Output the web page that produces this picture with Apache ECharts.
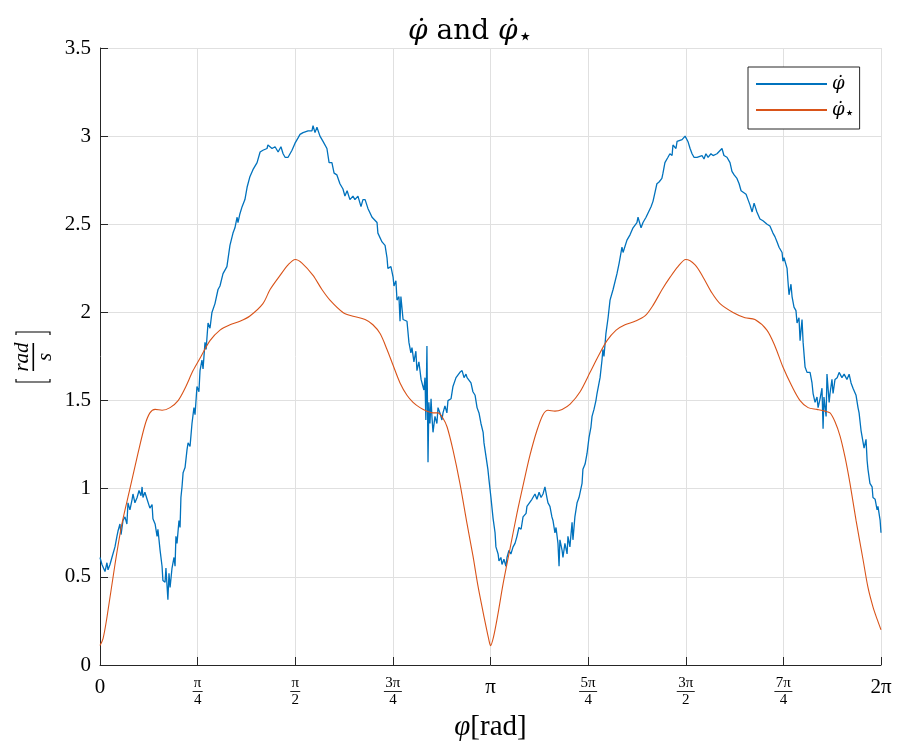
<!DOCTYPE html>
<html>
<head>
<meta charset="utf-8">
<script src="https://cdn.jsdelivr.net/npm/echarts/dist/echarts.min.js"></script>
<style>
  html, body { margin: 0; padding: 0; background: #ffffff; }
  #chart { width: 898px; height: 749px; }
</style>
</head>
<body>
<div id="chart"></div>
<script>
// Angle phi in degrees (0 .. 360 = 0 .. 2π), rates in rad/s.

// measured rate  φ̇
const phiBlue = [
  0, 0.9, 2.3, 3.2, 3.7, 4.6, 5.5, 6.9, 7.8, 8.3, 9.2, 9.7, 10.6, 11.5, 12.4, 12.9, 13.8, 14.8, 15.2, 16.1,
  17.1, 18.0, 18.9, 19.4, 19.8, 20.7, 21.7, 23.0, 24.0, 24.4, 25.4, 26.3, 26.7, 27.7, 28.6, 29.0, 30.0, 30.4, 30.9, 31.3,
  31.8, 32.3, 33.2, 34.1, 34.6, 35.0, 35.5, 36.4, 36.9, 37.3, 37.8, 38.3, 39.2, 40.1, 40.6, 41.5, 42.4, 43.3, 43.8, 44.7,
  45.6, 46.1, 47.0, 47.5, 48.4, 48.9, 49.8, 50.7, 51.6, 53.0, 54.4, 55.3, 56.7, 57.6, 58.5, 59.9, 61.3, 62.2, 63.2, 63.6,
  64.5, 65.5, 66.8, 67.8, 69.1, 70.5, 72.4, 73.8, 75.1, 77.0, 77.4, 79.3, 80.7, 82.1, 83.4, 84.4, 85.3, 86.7, 88.5, 89.9,
  91.3, 92.2, 93.6, 95.9, 97.7, 98.2, 99.1, 100.0, 101.4, 102.8, 104.6, 105.6, 106.9, 107.9, 109.2, 110.6, 112.0, 112.9, 113.9, 115.2,
  116.6, 117.5, 118.9, 120.3, 121.2, 122.2, 123.1, 123.5, 125.4, 125.8, 127.7, 128.1, 130.0, 131.4, 132.3, 132.7, 134.1, 135.1, 135.5, 136.4,
  136.9, 137.8, 138.3, 138.7, 139.7, 140.6, 141.5, 142.4, 143.3, 143.8, 144.7, 145.6, 146.1, 147.0, 148.0, 148.9, 149.3, 149.8, 150.2, 150.7,
  151.2, 151.6, 152.1, 152.6, 153.0, 153.5, 154.4, 155.3, 155.8, 156.7, 157.6, 158.1, 159.0, 159.9, 160.4, 161.8, 162.7, 163.2, 164.1, 165.0,
  165.9, 166.9, 167.8, 168.7, 169.2, 170.1, 171.0, 171.9, 172.9, 173.8, 174.7, 175.6, 176.6, 177.0, 177.9, 178.8, 179.3, 180.2, 181.2, 182.1,
  182.5, 183.5, 183.9, 184.8, 185.3, 186.2, 187.1, 187.6, 188.5, 189.4, 190.4, 191.3, 192.2, 193.1, 194.1, 195.0, 196.4, 196.8, 197.7, 199.1,
  199.6, 200.5, 201.4, 202.4, 203.3, 204.2, 205.1, 206.0, 206.5, 207.4, 208.3, 208.8, 209.7, 210.2, 211.1, 211.6, 212.0, 213.0, 213.4, 214.3,
  215.3, 215.7, 216.6, 217.6, 218.0, 218.9, 219.9, 220.8, 222.2, 222.6, 223.6, 224.5, 225.4, 226.3, 226.8, 227.7, 228.6, 229.1, 230.5, 231.4,
  231.8, 232.3, 233.2, 234.2, 235.1, 236.5, 238.3, 239.3, 239.7, 240.6, 241.1, 242.0, 242.9, 244.3, 245.7, 246.6, 247.5, 248.0, 249.4, 250.3,
  251.7, 252.6, 254.0, 254.9, 255.8, 256.7, 257.7, 259.0, 259.5, 260.4, 261.8, 262.7, 263.7, 264.1, 265.5, 266.0, 266.9, 268.3, 269.7, 271.0,
  272.0, 272.9, 273.8, 275.2, 276.1, 277.5, 278.4, 279.3, 280.3, 281.6, 282.6, 284.4, 285.3, 286.7, 287.6, 289.0, 290.4, 291.3, 292.3, 293.6,
  294.6, 295.5, 296.4, 297.8, 298.7, 299.6, 300.6, 301.5, 302.8, 304.2, 305.6, 307.5, 308.8, 310.2, 311.1, 312.1, 313.0, 314.4, 314.8, 315.3,
  316.7, 317.1, 317.6, 318.5, 319.0, 319.9, 320.8, 321.3, 322.2, 322.7, 323.6, 324.1, 325.0, 325.9, 326.4, 327.3, 328.2, 328.7, 329.6, 330.5,
  331.0, 331.9, 332.8, 333.3, 333.7, 334.7, 335.1, 336.1, 336.5, 337.4, 337.9, 338.8, 339.8, 340.7, 342.0, 343.0, 344.3, 345.3, 346.2, 347.1,
  348.5, 349.4, 349.9, 350.8, 351.7, 352.2, 353.1, 353.6, 354.0, 354.9, 355.9, 356.3, 357.3, 358.2, 358.6, 359.6, 360
];
const rateBlue = [
  0.61, 0.57, 0.53, 0.58, 0.54, 0.57, 0.61, 0.67, 0.73, 0.76, 0.80, 0.74, 0.82, 0.84, 0.80, 0.92, 0.88, 0.94, 0.97, 0.92,
  0.95, 0.99, 0.96, 1.01, 0.95, 0.98, 0.94, 0.89, 0.91, 0.83, 0.80, 0.73, 0.77, 0.65, 0.56, 0.48, 0.47, 0.55, 0.45, 0.37,
  0.52, 0.44, 0.55, 0.61, 0.56, 0.73, 0.69, 0.82, 0.78, 0.95, 1.01, 1.09, 1.12, 1.22, 1.26, 1.24, 1.37, 1.46, 1.42, 1.58,
  1.55, 1.67, 1.73, 1.68, 1.83, 1.79, 1.94, 1.91, 2.00, 2.05, 2.13, 2.15, 2.22, 2.21, 2.26, 2.38, 2.45, 2.48, 2.54, 2.51,
  2.56, 2.60, 2.64, 2.71, 2.77, 2.81, 2.85, 2.91, 2.92, 2.93, 2.95, 2.93, 2.94, 2.91, 2.94, 2.90, 2.88, 2.88, 2.92, 2.96,
  2.99, 3.01, 3.02, 3.03, 3.03, 3.06, 3.02, 3.05, 3.00, 2.97, 2.93, 2.85, 2.85, 2.79, 2.78, 2.73, 2.70, 2.66, 2.69, 2.64,
  2.66, 2.64, 2.66, 2.60, 2.64, 2.64, 2.64, 2.59, 2.54, 2.55, 2.51, 2.45, 2.40, 2.38, 2.31, 2.25, 2.26, 2.20, 2.15, 2.18,
  2.07, 2.09, 1.95, 2.09, 1.96, 1.95, 1.95, 1.83, 1.77, 1.80, 1.72, 1.78, 1.67, 1.72, 1.62, 1.62, 1.56, 1.63, 1.39, 1.81,
  1.15, 1.49, 1.37, 1.51, 1.41, 1.32, 1.41, 1.37, 1.46, 1.43, 1.39, 1.43, 1.47, 1.43, 1.50, 1.51, 1.58, 1.57, 1.63, 1.62,
  1.66, 1.67, 1.63, 1.65, 1.63, 1.63, 1.60, 1.55, 1.53, 1.46, 1.43, 1.37, 1.32, 1.26, 1.26, 1.11, 1.05, 0.95, 0.83, 0.75,
  0.67, 0.63, 0.59, 0.61, 0.57, 0.60, 0.56, 0.61, 0.65, 0.63, 0.67, 0.69, 0.73, 0.78, 0.77, 0.84, 0.86, 0.90, 0.90, 0.94,
  0.95, 0.97, 0.94, 0.98, 0.95, 0.97, 1.01, 0.95, 0.92, 0.90, 0.84, 0.82, 0.75, 0.78, 0.69, 0.56, 0.71, 0.65, 0.61, 0.69,
  0.63, 0.73, 0.67, 0.81, 0.71, 0.84, 0.92, 0.95, 1.03, 1.11, 1.14, 1.20, 1.29, 1.35, 1.41, 1.45, 1.50, 1.54, 1.63, 1.73,
  1.79, 1.75, 1.88, 1.97, 2.07, 2.13, 2.22, 2.28, 2.28, 2.37, 2.34, 2.34, 2.41, 2.44, 2.48, 2.47, 2.51, 2.54, 2.48, 2.51,
  2.54, 2.54, 2.60, 2.63, 2.68, 2.73, 2.74, 2.76, 2.79, 2.85, 2.88, 2.90, 2.89, 2.95, 2.93, 2.97, 2.96, 2.98, 3.00, 2.97,
  2.93, 2.90, 2.88, 2.88, 2.88, 2.89, 2.87, 2.90, 2.88, 2.90, 2.89, 2.90, 2.90, 2.93, 2.89, 2.88, 2.85, 2.80, 2.78, 2.76,
  2.73, 2.69, 2.68, 2.67, 2.64, 2.61, 2.57, 2.62, 2.57, 2.53, 2.52, 2.50, 2.49, 2.45, 2.43, 2.40, 2.37, 2.34, 2.29, 2.31,
  2.25, 2.18, 2.10, 2.16, 2.09, 2.03, 2.01, 1.94, 1.97, 1.84, 1.96, 1.83, 1.69, 1.66, 1.66, 1.66, 1.60, 1.54, 1.49, 1.52,
  1.46, 1.51, 1.57, 1.34, 1.52, 1.41, 1.65, 1.49, 1.54, 1.62, 1.54, 1.62, 1.63, 1.66, 1.63, 1.65, 1.62, 1.65, 1.60, 1.57,
  1.53, 1.46, 1.43, 1.33, 1.32, 1.23, 1.28, 1.16, 1.11, 1.03, 1.01, 0.95, 0.94, 0.88, 0.90, 0.82, 0.75
];

// reference rate  φ̇⋆
const phiStar = [
  0, 1.4, 3.2, 6.9, 10.1, 13.8, 17.5, 20.7, 23.0, 25.4, 28.6, 32.3, 36.0, 39.2, 42.9, 46.1, 50.7, 55.3, 59.9, 64.5,
  69.1, 75.1, 78.4, 83.0, 86.7, 90.0, 93.1, 98.2, 102.3, 106.0, 112.0, 116.2, 122.2, 125.8, 129.1, 132.3, 135.1, 138.3, 141.5, 144.3,
  147.5, 150.7, 153.5, 155.8, 158.1, 160.0, 162.7, 165.9, 169.2, 171.9, 174.2, 176.1, 177.9, 179.3, 180.0,
  181.4, 183.3, 185.8, 189.0, 192.2, 195.4, 198.2, 201.4, 204.2, 206.5, 209.7, 213.0, 216.7, 221.3, 225.9, 229.6, 233.7, 237.9, 242.0, 246.6,
  251.2, 254.9, 259.1, 262.8, 266.4, 270.0, 274.3, 278.0, 282.1, 285.8, 291.8, 297.3, 301.9, 307.4, 311.1, 314.8, 319.0, 322.7, 326.4, 330.5,
  334.2, 336.5, 338.8, 341.1, 343.4, 345.7, 348.5, 351.7, 354.0, 356.3, 358.2, 360
];
const rateStar = [
  0.11, 0.15, 0.27, 0.57, 0.80, 1.00, 1.20, 1.36, 1.43, 1.45, 1.445, 1.46, 1.50, 1.57, 1.67, 1.74, 1.84, 1.90, 1.93, 1.95,
  1.98, 2.05, 2.13, 2.21, 2.27, 2.30, 2.28, 2.21, 2.13, 2.07, 2.00, 1.98, 1.96, 1.93, 1.88, 1.79, 1.70, 1.60, 1.53, 1.49,
  1.46, 1.44, 1.43, 1.43, 1.40, 1.35, 1.22, 1.03, 0.80, 0.62, 0.45, 0.33, 0.22, 0.14, 0.11,
  0.16, 0.28, 0.46, 0.66, 0.86, 1.04, 1.19, 1.33, 1.42, 1.445, 1.44, 1.45, 1.48, 1.55, 1.66, 1.75, 1.84, 1.90, 1.93, 1.95,
  1.98, 2.04, 2.13, 2.20, 2.26, 2.30, 2.27, 2.20, 2.11, 2.05, 2.00, 1.97, 1.96, 1.90, 1.81, 1.69, 1.58, 1.50, 1.46, 1.45,
  1.44, 1.43, 1.38, 1.30, 1.18, 1.03, 0.82, 0.60, 0.44, 0.33, 0.26, 0.20
];

const xTickLabels = ['0', 'π/4', 'π/2', '3π/4', 'π', '5π/4', '3π/2', '7π/4', '2π'];
const yTickLabels = ['0', '0.5', '1', '1.5', '2', '2.5', '3', '3.5'];

const SERIF = '"Liberation Serif", "DejaVu Serif", serif';
const MATH = '"DejaVu Serif", serif';
const INK = '#262626';

const zip = (xs, ys) => xs.map((x, i) => [x, ys[i]]);

const chart = echarts.init(document.getElementById('chart'), null, { renderer: 'canvas' });

chart.setOption({
  animation: false,
  backgroundColor: '#ffffff',
  title: {
    text: '{m|φ̇} and {m|φ̇}{s|⋆}',
    left: 403,
    top: 9,
    textStyle: {
      fontFamily: MATH,
      fontSize: 28,
      fontWeight: 'normal',
      color: '#000',
      rich: {
        m: { fontFamily: MATH, fontStyle: 'italic', fontSize: 28, color: '#000' },
        s: { fontFamily: '"DejaVu Sans", sans-serif', fontSize: 24, color: '#000', padding: [12, 0, 0, 0] }
      }
    }
  },
  legend: {
    data: ['phi', 'phiStar'],
    orient: 'vertical',
    align: 'left',
    left: 748,
    top: 67,
    padding: [7, 5, 7, 8],
    itemGap: 6,
    itemWidth: 71,
    itemHeight: 2,
    icon: 'rect',
    borderColor: INK,
    borderWidth: 1,
    borderRadius: 0,
    backgroundColor: '#ffffff',
    formatter: n => (n === 'phi' ? '{m|φ̇}' : '{m|φ̇}{s|⋆}'),
    textStyle: {
      fontFamily: MATH,
      fontSize: 18,
      lineHeight: 20,
      color: '#000',
      rich: {
        m: { fontFamily: MATH, fontStyle: 'italic', fontSize: 18, lineHeight: 20, color: '#000' },
        s: { fontFamily: '"DejaVu Sans", sans-serif', fontSize: 16, color: '#000', padding: [8, 0, 0, 0] }
      }
    }
  },
  grid: { left: 100, right: 17, top: 48, bottom: 84, containLabel: false },
  xAxis: {
    type: 'value',
    min: 0,
    max: 360,
    interval: 45,
    name: '{m|φ}[rad]',
    nameLocation: 'middle',
    nameGap: 46,
    nameTextStyle: {
      fontFamily: SERIF,
      fontSize: 29,
      color: '#000',
      rich: { m: { fontFamily: SERIF, fontStyle: 'italic', fontSize: 29, color: '#000' } }
    },
    axisLine: { show: true, lineStyle: { color: INK, width: 1 } },
    axisTick: { show: true, inside: true, length: 8, lineStyle: { color: INK, width: 1 } },
    splitLine: { show: true, lineStyle: { color: '#e0e0e0', width: 1 } },
    axisLabel: {
      margin: 11,
      showMinLabel: true,
      showMaxLabel: true,
      color: '#000',
      formatter: v => {
        const t = xTickLabels[Math.round(v / 45)];
        if (t.indexOf('/') >= 0) {
          const [n, d] = t.split('/');
          return '{num|' + n + '}\n{' + (n.length > 1 ? 'barW' : 'bar') + '| }\n{den|' + d + '}';
        }
        return '{big|' + t + '}';
      },
      rich: {
        big: { fontFamily: SERIF, fontSize: 21, lineHeight: 22, color: '#000' },
        num: { fontFamily: SERIF, fontSize: 15, lineHeight: 14, color: '#000' },
        bar: { fontSize: 1, width: 10, height: 1, lineHeight: 3, backgroundColor: INK },
        barW: { fontSize: 1, width: 18, height: 1, lineHeight: 3, backgroundColor: INK },
        den: { fontFamily: SERIF, fontSize: 15, lineHeight: 14, color: '#000' }
      }
    }
  },
  yAxis: {
    type: 'value',
    min: 0,
    max: 3.5,
    interval: 0.5,
    axisLine: { show: true, lineStyle: { color: INK, width: 1 } },
    axisTick: { show: true, inside: true, length: 8, lineStyle: { color: INK, width: 1 } },
    splitLine: { show: true, lineStyle: { color: '#e0e0e0', width: 1 } },
    axisLabel: {
      margin: 9,
      fontFamily: SERIF,
      fontSize: 21,
      color: '#000',
      formatter: v => yTickLabels[Math.round(v / 0.5)]
    }
  },
  graphic: [{
    // y-axis unit: [ rad / s ], written bottom-to-top
    type: 'group',
    x: 33,
    y: 357,
    rotation: Math.PI / 2,
    children: [
      { type: 'text', x: 0, y: 0, style: { text: 'rad', font: 'italic 21px ' + SERIF, fill: '#000',
        textAlign: 'center', textVerticalAlign: 'bottom', align: 'center', verticalAlign: 'bottom' } },
      { type: 'rect', shape: { x: -14, y: -0.5, width: 28, height: 1.6 }, style: { fill: '#000' } },
      { type: 'text', x: 0, y: 2, style: { text: 's', font: 'italic 21px ' + SERIF, fill: '#000',
        textAlign: 'center', textVerticalAlign: 'top', align: 'center', verticalAlign: 'top' } },
      { type: 'polyline', shape: { points: [[-22, -17], [-25, -17], [-25, 17], [-22, 17]] },
        style: { stroke: '#000', lineWidth: 1.2, fill: null } },
      { type: 'polyline', shape: { points: [[22, -17], [25, -17], [25, 17], [22, 17]] },
        style: { stroke: '#000', lineWidth: 1.2, fill: null } }
    ]
  }],
  series: [
    {
      name: 'phi',
      type: 'line',
      data: zip(phiBlue, rateBlue),
      showSymbol: false,
      symbol: 'none',
      color: '#0072BD',
      lineStyle: { color: '#0072BD', width: 1.3 },
      z: 2
    },
    {
      name: 'phiStar',
      type: 'line',
      data: zip(phiStar, rateStar),
      smooth: 0.3,
      showSymbol: false,
      symbol: 'none',
      color: '#D95319',
      lineStyle: { color: '#D95319', width: 1.1 },
      z: 3
    }
  ]
});
</script>
</body>
</html>
